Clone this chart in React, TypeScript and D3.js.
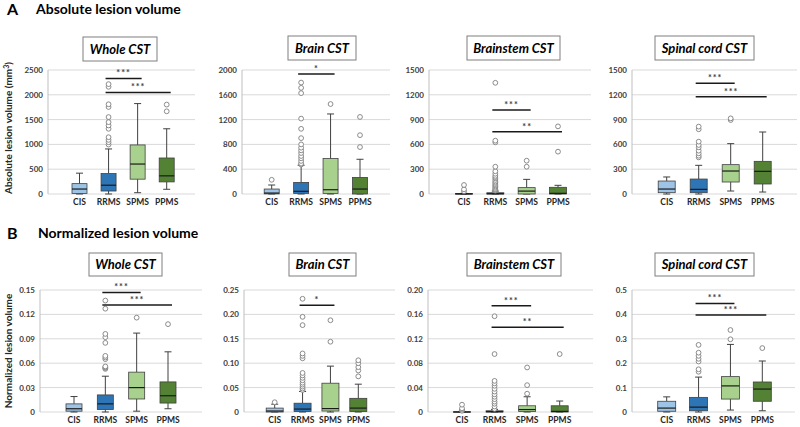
import React from "react";
import * as d3 from "d3";

const GROUPS = ["CIS", "RRMS", "SPMS", "PPMS"];
const COLORS = ["#9dc3e6", "#2e75b6", "#a9d18e", "#548235"];

// [min, q1, median, q3, max] per group
const wholeAbsTicks = [0, 500, 1000, 1500, 2000, 2500];
const wholeAbsBoxes = [[0, 10, 100, 209, 420], [0, 60, 177, 412, 908], [26, 299, 604, 989, 1823], [95, 244, 366, 726, 1315]];
const wholeAbsOutliers = [[], [996, 1043, 1091, 1145, 1315, 1382, 1449, 1551, 1754, 1809, 2161, 2215], [], [1667, 1803]];
const wholeAbsSig = [{ from: 1, to: 2, value: 2331, label: "***" }, { from: 1, to: 3, value: 2047, label: "***" }];

const brainAbsTicks = [0, 400, 800, 1200, 1600, 2000];
const brainAbsBoxes = [[0, 2, 15, 80, 145], [0, 10, 43, 187, 464], [0, 10, 69, 571, 1291], [0, 0, 80, 267, 560]];
const brainAbsOutliers = [[229], [475, 491, 533, 576, 613, 661, 704, 747, 800, 901, 1051, 1216, 1627, 1712, 1797], [1451], [757, 949, 1243]];
const brainAbsSig = [{ from: 1, to: 2, value: 1936, label: "*" }];

const stemAbsTicks = [0, 300, 600, 900, 1200, 1500];
const stemAbsBoxes = [[0, 0, 1, 5, 8], [0, 0, 3, 15, 35], [0, 0, 35, 77, 177], [0, 0, 8, 81, 105]];
const stemAbsOutliers = [[32, 56, 109], [40, 50, 60, 75, 90, 105, 120, 135, 150, 170, 190, 205, 220, 245, 275, 330, 625, 645, 1345], [330, 403], [512, 818]];
const stemAbsSig = [{ from: 1, to: 2, value: 1016, label: "***" }, { from: 1, to: 3, value: 754, label: "**" }];

const spinalAbsTicks = [0, 300, 600, 900, 1200, 1500];
const spinalAbsBoxes = [[0, 16, 60, 157, 206], [0, 16, 56, 181, 347], [36, 145, 278, 355, 609], [24, 121, 274, 395, 750]];
const spinalAbsOutliers = [[], [443, 463, 492, 524, 565, 593, 633, 783, 815], [895, 915], []];
const spinalAbsSig = [{ from: 1, to: 2, value: 1339, label: "***" }, { from: 1, to: 3, value: 1177, label: "***" }];

const wholeNormTicks = [0, 0.03, 0.06, 0.09, 0.12, 0.15];
const wholeNormTickLabels = ["0", "0.03", "0.06", "0.09", "0.12", "0.15"];
const wholeNormBoxes = [[0, 0.001, 0.004, 0.01, 0.019], [0, 0.003, 0.01, 0.021, 0.044], [0.001, 0.016, 0.03, 0.049, 0.097], [0.004, 0.011, 0.02, 0.037, 0.074]];
const wholeNormOutliers = [[], [0.053, 0.054, 0.055, 0.056, 0.065, 0.067, 0.069, 0.085, 0.092, 0.096, 0.127, 0.137], [0.116], [0.108]];
const wholeNormSig = [{ from: 1, to: 2, value: 0.147, label: "***" }, { from: 1, to: 3, value: 0.1315, label: "***" }];

const brainNormTicks = [0, 0.05, 0.1, 0.15, 0.2, 0.25];
const brainNormTickLabels = ["0", "0.05", "0.10", "0.15", "0.20", "0.25"];
const brainNormBoxes = [[0, 0, 0.002, 0.008, 0.016], [0, 0.001, 0.006, 0.018, 0.042], [0, 0.002, 0.007, 0.059, 0.094], [0, 0.001, 0.008, 0.028, 0.057]];
const brainNormOutliers = [[0.02], [0.045, 0.048, 0.052, 0.056, 0.06, 0.065, 0.07, 0.075, 0.08, 0.11, 0.115, 0.12, 0.178, 0.195, 0.232], [0.144, 0.188], [0.073, 0.085, 0.092, 0.1, 0.106]];
const brainNormSig = [{ from: 1, to: 2, value: 0.219, label: "*" }];

const stemNormTicks = [0, 0.04, 0.08, 0.12, 0.16, 0.2];
const stemNormTickLabels = ["0", "0.04", "0.08", "0.12", "0.16", "0.20"];
const stemNormBoxes = [[0, 0, 0, 0.0005, 0.001], [0, 0, 0.0005, 0.002, 0.004], [0, 0.001, 0.004, 0.0102, 0.025], [0, 0, 0.001, 0.0102, 0.018]];
const stemNormOutliers = [[0.002, 0.004, 0.006, 0.012], [0.005, 0.009, 0.0135, 0.017, 0.021, 0.025, 0.029, 0.0335, 0.038, 0.043, 0.047, 0.051, 0.095, 0.157], [0.03, 0.044, 0.073], [0.095]];
const stemNormSig = [{ from: 1, to: 2, value: 0.174, label: "***" }, { from: 1, to: 3, value: 0.139, label: "**" }];

const spinalNormTicks = [0, 0.1, 0.2, 0.3, 0.4, 0.5];
const spinalNormTickLabels = ["0", "0.1", "0.2", "0.3", "0.4", "0.5"];
const spinalNormBoxes = [[0, 0.003, 0.016, 0.044, 0.062], [0, 0.005, 0.02, 0.06, 0.143], [0.008, 0.053, 0.107, 0.145, 0.277], [0.005, 0.044, 0.094, 0.123, 0.209]];
const spinalNormOutliers = [[], [0.165, 0.175, 0.207, 0.218, 0.23, 0.243, 0.275], [0.298, 0.336], [0.262]];
const spinalNormSig = [{ from: 1, to: 2, value: 0.445, label: "***" }, { from: 1, to: 3, value: 0.398, label: "***" }];

type Panel = {
  title: string;
  ticks: number[];
  tickLabels?: string[];
  boxes: number[][];
  outliers: number[][];
  sig: { from: number; to: number; value: number; label: string }[];
  axisX: number; rightX: number; c0: number; c1: number; top: number; bottom: number;
  bx0: number; bx1: number; by0: number; by1: number; boxW: number;
};

const panels: Panel[] = [
  { title: "Whole CST", ticks: wholeAbsTicks, boxes: wholeAbsBoxes, outliers: wholeAbsOutliers, sig: wholeAbsSig,
    axisX: 48, rightX: 195, c0: 79.5, c1: 166.7, top: 70, bottom: 194, bx0: 83, bx1: 157, by0: 37, by1: 61, boxW: 15 },
  { title: "Brain CST", ticks: brainAbsTicks, boxes: brainAbsBoxes, outliers: brainAbsOutliers, sig: brainAbsSig,
    axisX: 242, rightX: 390, c0: 271.7, c1: 360, top: 70, bottom: 194, bx0: 288, bx1: 356, by0: 36, by1: 60, boxW: 15 },
  { title: "Brainstem CST", ticks: stemAbsTicks, boxes: stemAbsBoxes, outliers: stemAbsOutliers, sig: stemAbsSig,
    axisX: 429, rightX: 591, c0: 464, c1: 558, top: 70, bottom: 194, bx0: 467, bx1: 560, by0: 36, by1: 60, boxW: 17 },
  { title: "Spinal cord CST", ticks: spinalAbsTicks, boxes: spinalAbsBoxes, outliers: spinalAbsOutliers, sig: spinalAbsSig,
    axisX: 632, rightX: 797, c0: 666.7, c1: 762.7, top: 70, bottom: 194, bx0: 655, bx1: 754, by0: 36, by1: 60, boxW: 17 },
  { title: "Whole CST", ticks: wholeNormTicks, tickLabels: wholeNormTickLabels, boxes: wholeNormBoxes, outliers: wholeNormOutliers, sig: wholeNormSig,
    axisX: 40, rightX: 202, c0: 74, c1: 168, top: 290, bottom: 412, bx0: 89, bx1: 162, by0: 253, by1: 276, boxW: 16 },
  { title: "Brain CST", ticks: brainNormTicks, tickLabels: brainNormTickLabels, boxes: brainNormBoxes, outliers: brainNormOutliers, sig: brainNormSig,
    axisX: 244, rightX: 395, c0: 274.7, c1: 358.3, top: 290, bottom: 412, bx0: 289, bx1: 356, by0: 253, by1: 276, boxW: 17 },
  { title: "Brainstem CST", ticks: stemNormTicks, tickLabels: stemNormTickLabels, boxes: stemNormBoxes, outliers: stemNormOutliers, sig: stemNormSig,
    axisX: 428, rightX: 593, c0: 462, c1: 559.7, top: 290, bottom: 412, bx0: 467, bx1: 561, by0: 253, by1: 276, boxW: 17 },
  { title: "Spinal cord CST", ticks: spinalNormTicks, tickLabels: spinalNormTickLabels, boxes: spinalNormBoxes, outliers: spinalNormOutliers, sig: spinalNormSig,
    axisX: 632, rightX: 795, c0: 666.7, c1: 762.3, top: 290, bottom: 412, bx0: 655, bx1: 754, by0: 253, by1: 276, boxW: 18 },
];

const FONT = "Lato, 'Open Sans', sans-serif";
const TXT = "#262626";

function BoxPanel({ p }: { p: Panel }) {
  const y = d3.scaleLinear().domain([0, p.ticks[p.ticks.length - 1]]).range([p.bottom, p.top]);
  const x = d3.scalePoint<string>().domain(GROUPS).range([p.c0, p.c1]);
  const cap = 3.5;
  return (
    <g>
      <rect x={p.bx0} y={p.by0} width={p.bx1 - p.bx0} height={p.by1 - p.by0} fill="#fff" stroke="#7f7f7f" strokeWidth={1} />
      <text x={(p.bx0 + p.bx1) / 2} y={(p.by0 + p.by1) / 2 + 4.5} textAnchor="middle" fontFamily={FONT} fontWeight="bold" fontStyle="italic" fontSize={13} fill="#000">{p.title}</text>
      {p.ticks.map((t, k) => (
        <g key={t}>
          <line x1={p.axisX} x2={p.rightX} y1={y(t)} y2={y(t)} stroke="#d9d9d9" strokeWidth={1} />
          <text x={p.axisX - 5} y={y(t) + 3} textAnchor="end" fontFamily={FONT} fontWeight="bold" fontSize={8} fill="#404040">
            {p.tickLabels ? p.tickLabels[k] : String(t)}
          </text>
        </g>
      ))}
      <line x1={p.axisX} x2={p.axisX} y1={p.top} y2={p.bottom} stroke="#bfbfbf" strokeWidth={1} />
      {GROUPS.map((g, i) => {
        const cx = x(g) as number;
        const [mn, q1, md, q3, mx] = p.boxes[i];
        const w = p.boxW;
        return (
          <g key={g}>
            <line x1={cx} x2={cx} y1={y(mx)} y2={y(q3)} stroke="#404040" strokeWidth={1} />
            <line x1={cx} x2={cx} y1={y(q1)} y2={y(mn)} stroke="#404040" strokeWidth={1} />
            <line x1={cx - cap} x2={cx + cap} y1={y(mx)} y2={y(mx)} stroke="#404040" strokeWidth={1} />
            <line x1={cx - cap} x2={cx + cap} y1={y(mn)} y2={y(mn)} stroke="#404040" strokeWidth={1} />
            <rect x={cx - w / 2} y={y(q3)} width={w} height={Math.max(0.5, y(q1) - y(q3))} fill={COLORS[i]} stroke="#404040" strokeWidth={0.8} />
            <line x1={cx - w / 2} x2={cx + w / 2} y1={y(md)} y2={y(md)} stroke="#1a1a1a" strokeWidth={1.2} />
            {p.outliers[i].map((v, k) => (
              <circle key={k} cx={cx} cy={y(v)} r={2.4} fill="#fff" stroke="#7f7f7f" strokeWidth={0.9} />
            ))}
            <text x={cx} y={p.bottom + 11} textAnchor="middle" fontFamily={FONT} fontWeight="bold" fontSize={8.5} fill={TXT}>{g}</text>
          </g>
        );
      })}
      {p.sig.map((s, k) => {
        const x1 = (x(GROUPS[s.from]) as number) - 3;
        const x2 = (x(GROUPS[s.to]) as number) + 4;
        return (
          <g key={k}>
            <line x1={x1} x2={x2} y1={y(s.value)} y2={y(s.value)} stroke="#1a1a1a" strokeWidth={1.5} />
            <text x={(x1 + x2) / 2} y={y(s.value) - 2} textAnchor="middle" fontFamily={FONT} fontWeight="bold" fontSize={9} letterSpacing={1} fill="#404040">{s.label}</text>
          </g>
        );
      })}
    </g>
  );
}

export default function App() {
  return (
    <svg width={800} height={427} style={{ position: "absolute", left: 0, top: 0, background: "#fff" }}>
      <rect width={800} height={427} fill="#fff" />
      <text x={7} y={15} fontFamily={FONT} fontWeight="bold" fontSize={16} fill="#000">A</text>
      <text x={36} y={14} fontFamily={FONT} fontWeight="bold" fontSize={14} fill="#000">Absolute lesion volume</text>
      <text x={7} y={239} fontFamily={FONT} fontWeight="bold" fontSize={16} fill="#000">B</text>
      <text x={38} y={238} fontFamily={FONT} fontWeight="bold" fontSize={14} fill="#000">Normalized lesion volume</text>
      <text transform="translate(12,128) rotate(-90)" textAnchor="middle" fontFamily={FONT} fontWeight="bold" fontSize={10} fill={TXT}>
        Absolute lesion volume (mm<tspan dy={-3} fontSize={7}>3</tspan><tspan dy={3}>)</tspan>
      </text>
      <text transform="translate(12,351) rotate(-90)" textAnchor="middle" fontFamily={FONT} fontWeight="bold" fontSize={10} fill={TXT}>Normalized lesion volume</text>
      {panels.map((p, i) => (
        <BoxPanel key={i} p={p} />
      ))}
    </svg>
  );
}
